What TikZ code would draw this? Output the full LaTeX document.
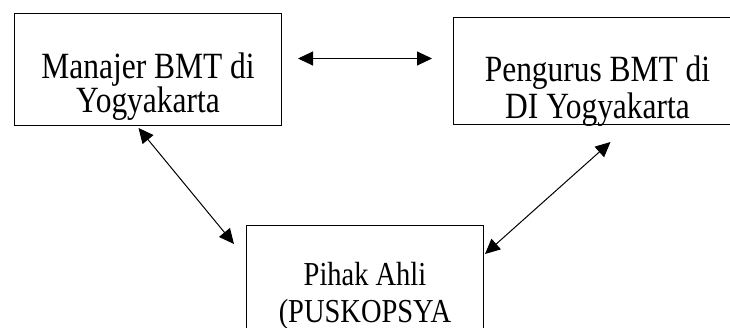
\documentclass[tikz,border=0pt]{standalone}
\usepackage{fontspec}
\setmainfont{Liberation Serif}
\newfontfamily\boxfont[FakeStretch=0.85]{Liberation Serif}
\usetikzlibrary{arrows.meta}

\begin{document}
\begin{tikzpicture}[x=1pt, y=-1pt,
    >={Triangle[length=15pt, width=14pt]},
    kotak/.style={draw, line width=1pt, anchor=north west, inner sep=0pt},
    panah/.style={<->, line width=1pt}]
  \newcommand{\isikotak}[6]{%
    \parbox[c][#1][t]{#2}{\centering\boxfont\fontsize{#3}{#4}\selectfont\vspace*{#5}#6}%
  }
  \clip (0,0) rectangle (730,327);
  \node[kotak] (manajer) at (14,13) {\isikotak{112pt}{267pt}{37}{32}{39pt}{Manajer BMT di\\Yogyakarta}};
  \node[kotak] (pengurus) at (453,17) {\isikotak{107pt}{288pt}{37}{37}{38pt}{Pengurus BMT di\\DI Yogyakarta}};
  \node[kotak] (ahli) at (246,225) {\isikotak{130pt}{237pt}{33.5}{37}{37pt}{Pihak Ahli\\(PUSKOPSYA}};
  % hubungan antar pihak
  \draw[panah] ([xshift=16pt, yshift=11pt]manajer.east) -- ([xshift=-21pt, yshift=12.5pt]pengurus.west);
  \draw[panah] ([xshift=-9.5pt, yshift=-2pt]manajer.south) -- ([xshift=-12pt, yshift=-19pt]ahli.north west);
  \draw[panah] ([xshift=13pt, yshift=-17pt]pengurus.south) -- ([xshift=1pt, yshift=-29pt]ahli.north east);
\end{tikzpicture}
\end{document}
